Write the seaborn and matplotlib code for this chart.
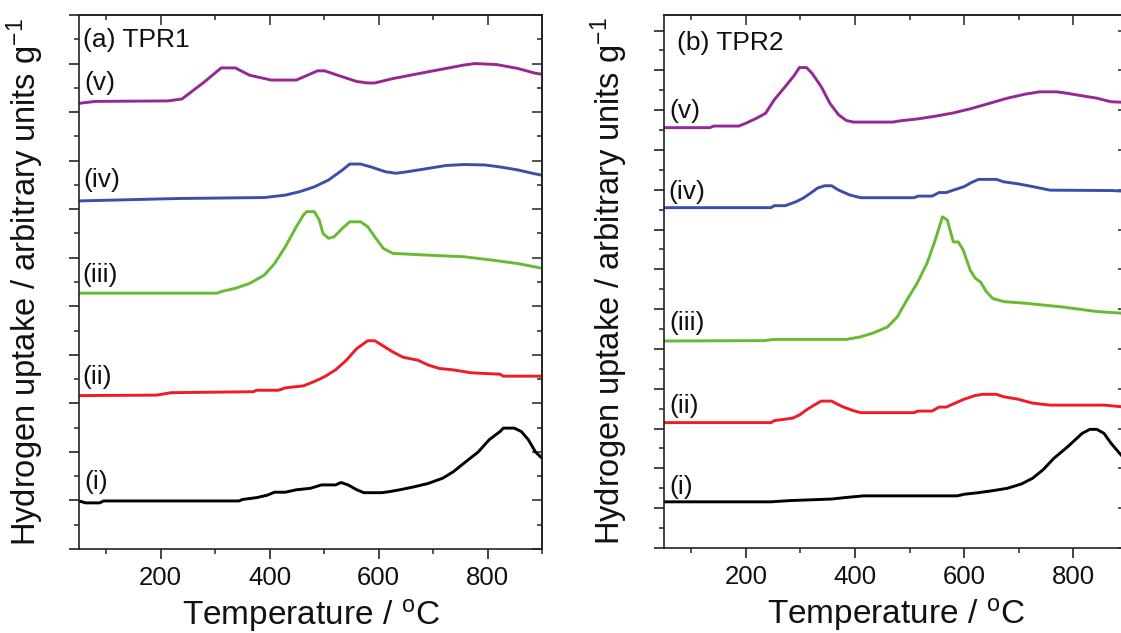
import numpy as np
import pandas as pd
import matplotlib
matplotlib.use("Agg")
import matplotlib.pyplot as plt
from matplotlib.ticker import MultipleLocator, NullFormatter
import seaborn as sns

# ---------------- data ----------------
series_names = ["(i)", "(ii)", "(iii)", "(iv)", "(v)"]
series_colors = ["#000000", "#EE1C24", "#66BB33", "#3A50A8", "#962896"]

# Panel (a) TPR1
T_a_v = [50, 80, 213, 239, 280, 311, 337, 363, 403, 449, 488, 501, 530, 560, 580, 593, 626, 691, 757, 777, 816, 855, 888, 900]
y_a_v = [9.18, 9.22, 9.23, 9.27, 9.62, 9.91, 9.91, 9.76, 9.66, 9.66, 9.85, 9.85, 9.74, 9.63, 9.60, 9.60, 9.69, 9.83, 9.97, 10.00, 9.98, 9.90, 9.80, 9.78]

T_a_iv = [50, 232, 390, 429, 455, 482, 508, 534, 547, 567, 586, 613, 632, 652, 691, 724, 757, 796, 823, 855, 882, 900]
y_a_iv = [7.17, 7.22, 7.24, 7.29, 7.36, 7.46, 7.60, 7.81, 7.93, 7.93, 7.87, 7.77, 7.74, 7.77, 7.84, 7.90, 7.92, 7.91, 7.87, 7.81, 7.74, 7.70]

T_a_iii = [50, 304, 310, 337, 363, 390, 409, 429, 449, 462, 468, 482, 491, 498, 508, 518, 534, 547, 567, 580, 593, 609, 626, 678, 757, 809, 855, 888, 900]
y_a_iii = [5.27, 5.27, 5.30, 5.37, 5.47, 5.64, 5.88, 6.23, 6.64, 6.88, 6.95, 6.95, 6.78, 6.50, 6.40, 6.43, 6.61, 6.74, 6.74, 6.64, 6.43, 6.19, 6.09, 6.06, 6.02, 5.95, 5.88, 5.81, 5.78]

T_a_ii = [50, 193, 219, 370, 376, 416, 429, 462, 482, 501, 521, 541, 560, 580, 593, 606, 626, 645, 672, 691, 711, 737, 770, 823, 829, 900]
y_a_ii = [3.16, 3.17, 3.22, 3.24, 3.27, 3.27, 3.32, 3.36, 3.45, 3.55, 3.69, 3.89, 4.13, 4.29, 4.29, 4.20, 4.06, 3.95, 3.89, 3.79, 3.72, 3.69, 3.63, 3.60, 3.56, 3.56]

T_a_i = [50, 62, 88, 95, 344, 350, 377, 396, 409, 429, 449, 475, 495, 521, 531, 544, 560, 573, 606, 619, 639, 665, 691, 718, 737, 757, 783, 803, 823, 829, 849, 862, 875, 888, 900]
y_a_i = [0.99, 0.95, 0.95, 0.99, 0.99, 1.02, 1.06, 1.11, 1.17, 1.17, 1.22, 1.25, 1.32, 1.32, 1.37, 1.32, 1.22, 1.16, 1.16, 1.18, 1.22, 1.28, 1.35, 1.46, 1.59, 1.77, 2.00, 2.25, 2.42, 2.49, 2.49, 2.42, 2.25, 2.00, 1.87]

# Panel (b) TPR2
T_b_v = [50, 134, 141, 187, 200, 220, 236, 252, 272, 289, 298, 311, 321, 338, 354, 370, 384, 397, 469, 482, 515, 548, 580, 613, 646, 679, 711, 738, 770, 790, 816, 843, 869, 887, 900]
y_b_v = [10.56, 10.56, 10.60, 10.60, 10.67, 10.80, 10.92, 11.26, 11.59, 11.88, 12.07, 12.07, 11.93, 11.59, 11.17, 10.88, 10.74, 10.70, 10.70, 10.73, 10.78, 10.85, 10.93, 11.04, 11.17, 11.30, 11.40, 11.46, 11.46, 11.42, 11.36, 11.30, 11.21, 11.20, 11.18]

T_b_iv = [50, 246, 252, 272, 292, 305, 318, 331, 344, 357, 370, 390, 410, 508, 515, 541, 554, 567, 580, 600, 613, 626, 659, 672, 698, 725, 757, 869, 900]
y_b_iv = [8.55, 8.55, 8.60, 8.60, 8.70, 8.79, 8.91, 9.04, 9.10, 9.10, 8.99, 8.87, 8.80, 8.80, 8.84, 8.84, 8.93, 8.93, 8.99, 9.08, 9.18, 9.26, 9.26, 9.20, 9.15, 9.08, 8.99, 8.98, 8.96]

T_b_iii = [50, 233, 252, 384, 409, 433, 459, 477, 495, 514, 532, 547, 560, 569, 580, 589, 598, 611, 620, 630, 640, 652, 672, 711, 777, 843, 887, 900]
y_b_iii = [5.20, 5.21, 5.24, 5.24, 5.30, 5.40, 5.55, 5.80, 6.23, 6.66, 7.16, 7.74, 8.32, 8.24, 7.69, 7.69, 7.49, 6.98, 6.78, 6.68, 6.45, 6.27, 6.19, 6.15, 6.06, 5.94, 5.90, 5.89]

T_b_ii = [50, 246, 252, 285, 298, 311, 325, 338, 357, 364, 377, 397, 410, 508, 515, 541, 554, 567, 580, 600, 620, 633, 659, 672, 698, 725, 757, 856, 887, 900]
y_b_ii = [3.15, 3.15, 3.20, 3.26, 3.34, 3.47, 3.59, 3.69, 3.69, 3.64, 3.55, 3.45, 3.40, 3.40, 3.44, 3.44, 3.54, 3.54, 3.62, 3.74, 3.83, 3.86, 3.86, 3.80, 3.74, 3.64, 3.59, 3.59, 3.55, 3.55]

T_b_i = [50, 246, 279, 318, 357, 384, 416, 587, 600, 626, 652, 679, 705, 725, 744, 764, 790, 816, 830, 843, 856, 869, 887, 900]
y_b_i = [1.16, 1.16, 1.19, 1.21, 1.23, 1.27, 1.31, 1.31, 1.35, 1.39, 1.44, 1.50, 1.61, 1.75, 1.96, 2.25, 2.55, 2.88, 2.98, 2.98, 2.88, 2.63, 2.34, 2.15]

x_major_ticks = [200, 400, 600, 800]
x_tick_labels = ["200", "400", "600", "800"]
panel_titles = ["(a) TPR1", "(b) TPR2"]
x_label = r"Temperature / $^{\mathregular{o}}$C"
y_label = r"Hydrogen uptake / arbitrary units g$^{\mathregular{-1}}$"

def long_frame(pairs):
    rows = []
    for name, (T, y) in zip(series_names, pairs):
        rows.append(pd.DataFrame({"T": T, "y": y, "series": name}))
    return pd.concat(rows, ignore_index=True)

df_a = long_frame([(T_a_i, y_a_i), (T_a_ii, y_a_ii), (T_a_iii, y_a_iii), (T_a_iv, y_a_iv), (T_a_v, y_a_v)])
df_b = long_frame([(T_b_i, y_b_i), (T_b_ii, y_b_ii), (T_b_iii, y_b_iii), (T_b_iv, y_b_iv), (T_b_v, y_b_v)])

# ---------------- style ----------------
sns.set_theme(style="ticks")
plt.rcParams["font.family"] = ["Liberation Sans", "DejaVu Sans"]
plt.rcParams["mathtext.default"] = "regular"

palette = dict(zip(series_names, series_colors))

fig = plt.figure(figsize=(11.21, 6.33), dpi=100)
W, H = 1121, 633
ax_a = fig.add_axes([79 / W, (H - 549) / H, 463 / W, 534 / H])
ax_b = fig.add_axes([664 / W, (H - 548) / H, 464 / W, 533 / H])

# label positions (axes fraction) for series labels
label_pos_a = [(0.012, 0.126), (0.008, 0.323), (0.008, 0.513), (0.010, 0.691), (0.012, 0.873)]
label_pos_b = [(0.011, 0.115), (0.011, 0.266), (0.011, 0.422), (0.009, 0.668), (0.011, 0.819)]

for ax, df, title, ylim, lpos, tpos, ylx in [
    (ax_a, df_a, panel_titles[0], (0, 11.0), label_pos_a, (0.008, 0.953), -0.071),
    (ax_b, df_b, panel_titles[1], (0, 13.39), label_pos_b, (0.028, 0.947), -0.073),
]:
    sns.lineplot(data=df, x="T", y="y", hue="series", palette=palette,
                 estimator=None, sort=False, legend=False, linewidth=2.1, ax=ax)
    ax.set_xlim(50, 900)
    ax.set_ylim(*ylim)
    ax.set_xticks(x_major_ticks)
    ax.set_xticklabels(x_tick_labels)
    ax.xaxis.set_minor_locator(MultipleLocator(100))
    ax.yaxis.set_major_locator(MultipleLocator(1))
    ax.yaxis.set_minor_locator(MultipleLocator(0.5))
    ax.yaxis.set_major_formatter(NullFormatter())
    ax.tick_params(axis="both", which="major", direction="out", length=7.5, width=1.1,
                   labelsize=18.5, pad=5, colors="#111111")
    ax.tick_params(axis="both", which="minor", direction="out", length=3.6, width=1.1)
    for sp in ax.spines.values():
        sp.set_linewidth(1.2)
        sp.set_color("#222222")
        sp.set_visible(True)
    # inward ticks on top and right
    top = ax.secondary_xaxis("top")
    top.set_xticks(x_major_ticks)
    top.xaxis.set_minor_locator(MultipleLocator(100))
    top.xaxis.set_major_formatter(NullFormatter())
    top.tick_params(which="major", direction="in", length=7.5, width=1.1)
    top.tick_params(which="minor", direction="in", length=3.6, width=1.1)
    top.spines["top"].set_linewidth(1.2)
    right = ax.secondary_yaxis("right")
    right.yaxis.set_major_locator(MultipleLocator(1))
    right.yaxis.set_minor_locator(MultipleLocator(0.5))
    right.yaxis.set_major_formatter(NullFormatter())
    right.tick_params(which="major", direction="in", length=7.5, width=1.1)
    right.tick_params(which="minor", direction="in", length=3.6, width=1.1)
    right.spines["right"].set_linewidth(1.2)

    ax.set_xlabel(x_label, fontsize=24, labelpad=5, color="#111111")
    ax.set_ylabel(y_label, fontsize=23.5, color="#111111")
    ax.yaxis.set_label_coords(ylx, 0.5)

    ax.text(tpos[0], tpos[1], title, transform=ax.transAxes, fontsize=19,
            ha="left", va="center", color="#111111")
    for name, (px, py) in zip(series_names, lpos):
        ax.text(px, py, name, transform=ax.transAxes, fontsize=19,
                ha="left", va="center", color="#111111")

fig.savefig("out.png", dpi=100)
